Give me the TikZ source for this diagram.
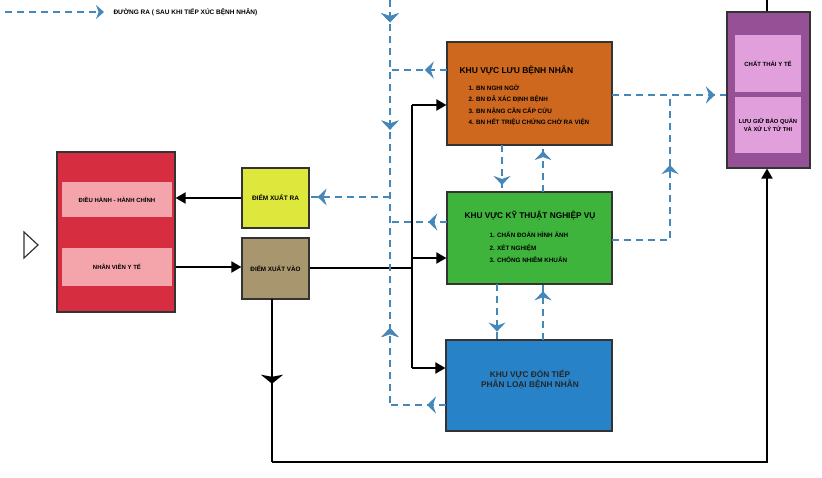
\documentclass[tikz,border=0pt]{standalone}
\usepackage{fontspec}
\setmainfont{Liberation Sans}
\usetikzlibrary{arrows.meta,decorations.markings}
\definecolor{cOrange}{RGB}{205,104,30}
\definecolor{cGreen}{RGB}{62,180,60}
\definecolor{cBlue}{RGB}{40,130,200}
\definecolor{cPurple}{RGB}{150,80,150}
\definecolor{cPurpleIn}{RGB}{225,160,220}
\definecolor{cRed}{RGB}{215,45,65}
\definecolor{cRedIn}{RGB}{244,165,172}
\definecolor{cYellow}{RGB}{222,232,60}
\definecolor{cTan}{RGB}{168,150,110}
\definecolor{cDash}{RGB}{70,135,185}
\tikzset{
  box/.style={draw=black!80, line width=1.2pt, inner sep=0pt},
  band/.style={draw=none, inner sep=0pt},
  txt/.style={font=\fontsize{6}{7}\selectfont\bfseries, text=black},
  dline/.style={draw=cDash, line width=2pt, dash pattern=on 7pt off 5pt},
  sline/.style={draw=black, line width=2pt},
  btip/.tip={Stealth[width=17pt,length=9pt,inset=3pt]},
  ktip/.tip={Triangle[width=11pt,length=10pt]},
  mk/.style={postaction={decorate}, decoration={markings, mark=at position #1 with {\arrow{btip}}}},
  mkr/.style={postaction={decorate}, decoration={markings, mark=at position #1 with {\arrowreversed{btip}}}},
}
\begin{document}
\begin{tikzpicture}[x=1pt,y=-1pt]
\useasboundingbox (0,0) rectangle (822,478);
% legend
\coordinate (lg1) at (5,12);
\coordinate (lg2) at (104,12);
\draw[dline, -{Stealth[width=14pt,length=8pt]}, cDash] (lg1) -- (lg2);
\node[txt, anchor=west, font=\fontsize{6.5}{7}\selectfont\bfseries] (legend) at (110,12) {ĐƯỜNG RA ( SAU KHI TIẾP XÚC BỆNH NHÂN)};
% left triangle
\draw[line width=1.2pt, black!80] (24,232) -- (38,245) -- (24,258) -- cycle;
% red box
\node[box, fill=cRed, minimum width=118pt, minimum height=160pt] (red) at (116,232) {};
\node[band, fill=cRedIn, minimum width=110pt, minimum height=35pt, txt] (red1) at (117,200) {ĐIỀU HÀNH - HÀNH CHÍNH};
\node[band, fill=cRedIn, minimum width=110pt, minimum height=38pt, txt] (red2) at (117,267) {NHÂN VIÊN Y TẾ};
% yellow and tan
\node[box, fill=cYellow, minimum width=67pt, minimum height=60pt, txt, font=\fontsize{6.5}{7}\selectfont\bfseries] (yel) at (275.5,198) {ĐIỂM XUẤT RA};
\node[box, fill=cTan, minimum width=67pt, minimum height=61pt, txt, font=\fontsize{6.3}{7}\selectfont\bfseries] (tan) at (275.5,268.5) {ĐIỂM XUẤT VÀO};
% orange
\node[box, fill=cOrange, minimum width=165pt, minimum height=103pt] (ora) at (529.5,93.5) {};
\node[txt, anchor=west, font=\fontsize{8.5}{9}\selectfont\bfseries] (oraT) at (456,70) {KHU VỰC LƯU BỆNH NHÂN};
\node[txt, anchor=north west, align=left, font=\fontsize{6.3}{11.3}\selectfont\bfseries] (oraL) at (465,81.5) {1. BN NGHI NGỜ\\2. BN ĐÃ XÁC ĐỊNH BỆNH\\3. BN NẶNG CẦN CẤP CỨU\\4. BN HẾT TRIỆU CHỨNG CHỜ RA VIỆN};
% green
\node[box, fill=cGreen, minimum width=165pt, minimum height=92pt] (gre) at (529.5,238) {};
\node[txt, font=\fontsize{8.3}{9}\selectfont\bfseries] (greT) at (530,216) {KHU VỰC KỸ THUẬT NGHIỆP VỤ};
\node[txt, anchor=north west, align=left, font=\fontsize{6.3}{12.5}\selectfont\bfseries] (greL) at (486,228.5) {1. CHẨN ĐOÁN HÌNH ẢNH\\2. XÉT NGHIỆM\\3. CHỐNG NHIỄM KHUẨN};
% blue
\node[box, fill=cBlue, minimum width=166pt, minimum height=91pt] (blu) at (529,385.5) {};
\node[txt, align=center, font=\fontsize{8.3}{10}\selectfont\bfseries, text=black!85] (bluT) at (530,380) {KHU VỰC ĐÓN TIẾP\\PHÂN LOẠI BỆNH NHÂN};
% purple
\node[box, fill=cPurple, minimum width=83pt, minimum height=156pt] (pur) at (768.5,90) {};
\node[band, fill=cPurpleIn, minimum width=66pt, minimum height=57pt, txt, font=\fontsize{6}{7}\selectfont\bfseries] (pur1) at (768,63.5) {CHẤT THẢI Y TẾ};
\node[band, fill=cPurpleIn, minimum width=66pt, minimum height=56pt, txt, align=center, font=\fontsize{5.8}{8}\selectfont\bfseries] (pur2) at (768,125) {LƯU GIỮ BẢO QUẢN\\VÀ XỬ LÝ TỬ THI};
% black connectors
\draw[sline, -{ktip}] (yel.west) -- (yel.west -| red.east);
\draw[sline, -{ktip}] (red2.east -| red.east) -- (red2.east -| tan.west);
\coordinate (j1) at (412,268);
\coordinate (jt) at (412,105);
\coordinate (jg) at (412,258);
\coordinate (jb) at (412,368);
\draw[sline] (tan.east |- j1) -- (j1);
\draw[sline] (jt) -- (jb);
\draw[sline, -{ktip}] (jt) -- (jt -| ora.west);
\draw[sline, -{ktip}] (jg) -- (jg -| gre.west);
\draw[sline, -{ktip}] (jb) -- (jb -| blu.west);
\coordinate (b1) at (272,462);
\coordinate (b2) at (767,462);
\draw[sline, postaction={decorate}, decoration={markings, mark=at position 0.52 with {\arrow{Stealth[width=22pt,length=9pt,inset=2pt]}}}] (272,299) -- (b1);
\draw[sline, -{ktip}] (b1) -- (b2) -- (b2 |- pur.south);
\coordinate (ptop) at (767,0);
\draw[sline] (pur.north -| ptop) -- (ptop);
% dashed connectors
\coordinate (v0) at (390,0);
\coordinate (v1) at (390,405);
\draw[dline, mk=0.055, mk=0.32, mkr=0.81] (v0) -- (v1);
\draw[dline, mk=0.39] (447,70) -- (390,70);
\draw[dline, mk=0.33] (447,222) -- (390,222);
\draw[dline, mk=0.34] (446,405) -- (v1);
\draw[dline, mk=0.9] (390,197) -- (yel.east |- 0,197);
\draw[dline, mk=0.85] (502,145) -- (502,192);
\draw[dline, mk=0.87] (543,192) -- (543,145);
\draw[dline, mk=0.85] (497,284) -- (497,340);
\draw[dline, mk=0.87] (543,340) -- (543,284);
\draw[dline, mk=0.9] (612,95) -- (pur.west |- 0,95);
\coordinate (gr1) at (670,240);
\draw[dline, mk=0.655] (612,240) -- (gr1) -- (670,95);
\end{tikzpicture}
\end{document}
